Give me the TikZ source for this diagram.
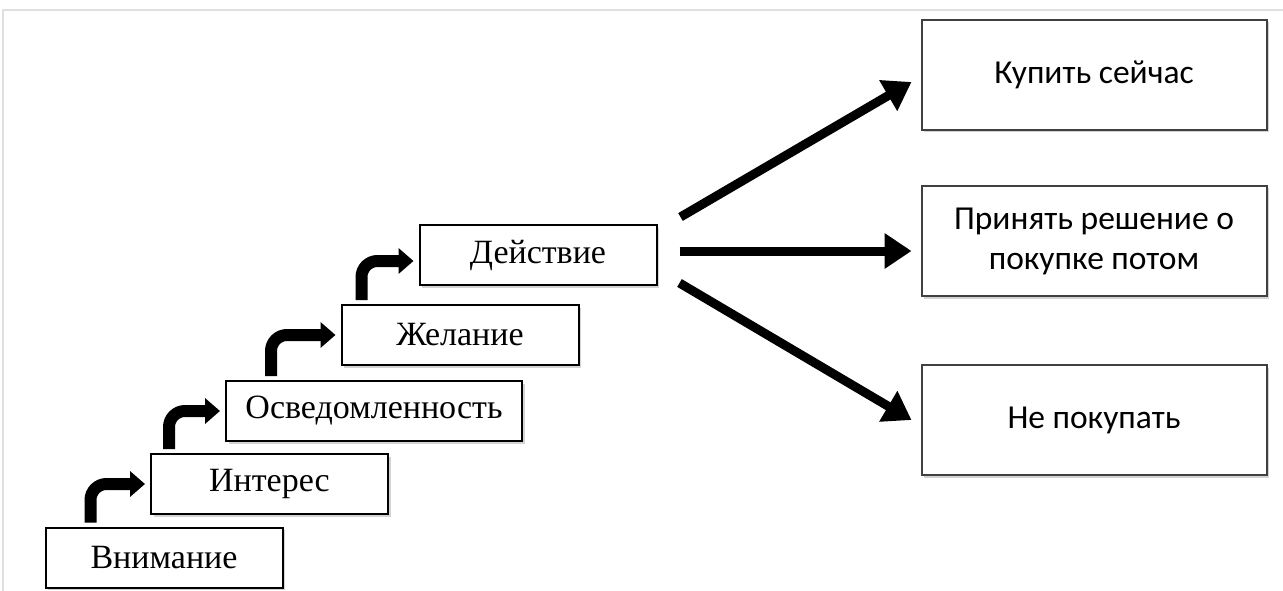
\documentclass[tikz,border=0pt]{standalone}
\usepackage{fontspec}
\setmainfont{Liberation Serif}
\newfontfamily\calibri{Carlito}
\usetikzlibrary{arrows.meta,shadows}
\begin{document}
\begin{tikzpicture}[x=1pt,y=-1pt,
  stepbox/.style={draw=black, line width=2pt, fill=white, minimum width=237pt, minimum height=60pt, inner sep=0pt,
    font=\fontsize{34}{40}\selectfont, drop shadow={shadow xshift=2.5pt, shadow yshift=-2.5pt, opacity=0.35}},
  choicebox/.style={draw=black!75, line width=2pt, fill=white, minimum width=345pt, minimum height=110pt, align=center,
    font=\calibri\fontsize{33.5}{40}\selectfont, drop shadow={shadow xshift=2.5pt, shadow yshift=-2.5pt, opacity=0.35}},
  stepto/.style={line width=12pt, rounded corners=16pt, -{Triangle[width=25pt,length=15pt]}},
  choiceto/.style={line width=9pt, -{Triangle[width=34pt,length=27pt]}}]
\useasboundingbox (0,0) rectangle (1283,591);
\draw[black!12, line width=2pt] (3,591) -- (3,10) -- (1283,10);
\node[stepbox] (b1) at (164,557.5) {Внимание};
\node[stepbox] (b2) at (269.5,484) {Интерес};
\node[stepbox, minimum width=296pt] (b3) at (374,411) {Осведомленность};
\node[stepbox] (b4) at (460,335) {Желание};
\node[stepbox] (b5) at (538,255) {Действие};
\node[choicebox] (buy) at (1094,75) {Купить сейчас};
\node[choicebox] (later) at (1094,241) {Принять решение о\\покупке потом};
\node[choicebox] (no) at (1094,420) {Не покупать};
\foreach \a/\b/\dx/\dy in {b1/b2/46/0, b2/b3/19/0, b3/b4/46/0, b4/b5/21/-6}
  \draw[stepto] ([xshift=\dx pt,yshift=4pt]\a.north west) |- ([xshift=-5pt,yshift=\dy pt]\b.west);
\draw[choiceto] ([xshift=23pt,yshift=38pt]b5.east) -- ([xshift=-9pt,yshift=-7pt]buy.west);
\draw[choiceto] ([xshift=22pt,yshift=4pt]b5.east) -- ([xshift=-9pt,yshift=-10pt]later.west);
\draw[choiceto] ([xshift=22pt,yshift=-28pt]b5.east) -- ([xshift=-9pt]no.west);
\end{tikzpicture}
\end{document}
